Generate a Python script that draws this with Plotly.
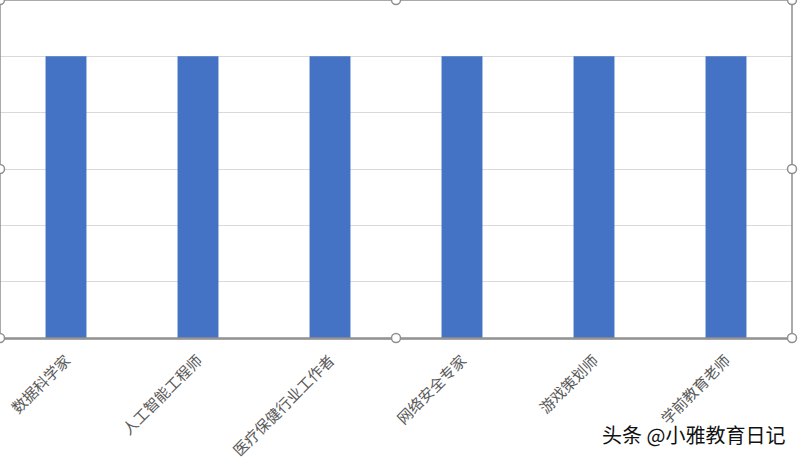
import plotly.graph_objects as go

categories = ["数据科学家", "人工智能工程师", "医疗保健行业工作者", "网络安全专家", "游戏策划师", "学前教育老师"]
values = [5, 5, 5, 5, 5, 5]

fig = go.Figure()
fig.add_trace(go.Bar(x=categories, y=values, marker=dict(color="#4472C4", line=dict(width=0))))

frame_color = "#8f8f8f"
shapes = [
    dict(type="rect", xref="paper", yref="paper", x0=0, x1=1, y0=0, y1=1,
         line=dict(color=frame_color, width=1.5), fillcolor="rgba(0,0,0,0)", layer="above"),
]
for hx in (0, 0.5, 1):
    for hy in (0, 0.5, 1):
        if hx == 0.5 and hy == 0.5:
            continue
        shapes.append(dict(type="circle", xref="paper", yref="paper",
                           xsizemode="pixel", ysizemode="pixel",
                           xanchor=hx, yanchor=hy, x0=-4.5, x1=4.5, y0=-4.5, y1=4.5,
                           line=dict(color=frame_color, width=1.5), fillcolor="white", layer="above"))

fig.update_layout(
    width=801, height=458,
    margin=dict(l=0, r=9, t=0, b=120),
    paper_bgcolor="white", plot_bgcolor="white",
    showlegend=False,
    bargap=0.69,
    font=dict(family="Noto Sans CJK SC", color="#595959"),
    xaxis=dict(tickangle=-45, tickfont=dict(size=15, color="#595959"),
               showline=True, linecolor="#a6a6a6", linewidth=1.5,
               ticks="", ticklabelstandoff=6, automargin=False),
    yaxis=dict(range=[0, 6], dtick=1, showticklabels=False, gridcolor="#d9d9d9",
               gridwidth=1, zeroline=False, showline=False, automargin=False),
    shapes=shapes,
    annotations=[dict(text="头条 @小雅教育日记", xref="paper", yref="paper",
                      x=787 / 792, y=-(434 - 338) / 338, xanchor="right", yanchor="middle",
                      showarrow=False,
                      font=dict(size=20, color="#111111", family="Noto Sans CJK SC"))],
)

fig.write_html("out.html", config={"displayModeBar": False},
               post_script="document.body.style.margin='0';document.body.style.overflow='hidden';")
